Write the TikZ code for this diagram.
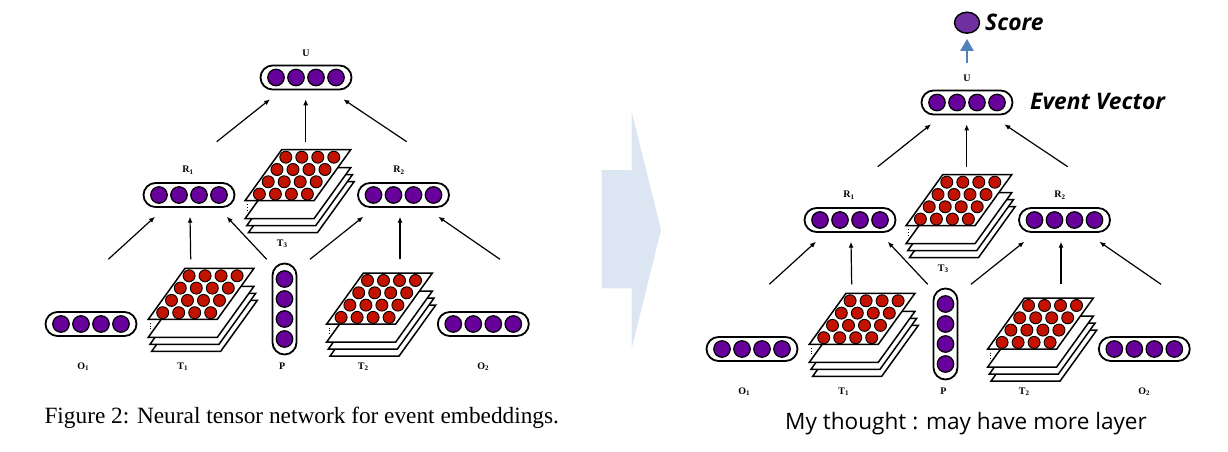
\documentclass[tikz,border=0pt]{standalone}
\usepackage{fontspec}
\setmainfont{Liberation Serif}
\newfontfamily\notefont{Open Sans}
\usetikzlibrary{calc,arrows.meta,shapes.geometric}

\definecolor{unitPurple}{RGB}{104,0,156}
\definecolor{cellRed}{RGB}{196,18,0}
\definecolor{flowBlue}{RGB}{220,230,242}
\definecolor{scoreBlue}{RGB}{79,129,189}
\definecolor{scorePurple}{RGB}{112,48,160}

%% tensor: stacked plates with 4x4 cells, #1 = lower left corner of top plate
\newcommand{\tensorStack}[1]{%
  \foreach \dx/\dy in {3.4/32, 1.7/25, 0/18, 0/0}
  {
    \draw[plateDecorate] ($(#1)+(\dx,\dy)$) -- ++(69,0) -- ++(36.7,-51)
      -- ++(-69,0) -- cycle;
  }
  \foreach \row in {0,...,3}
    \foreach \col in {0,...,3}
    {
      \node[cellDecorate] (#1-\row-\col) at
        ($(#1)+(14.4+16*\col+8.8*\row,-6.6-12.3*\row)$) {};
    }
  \draw[dotted,line width=0.8pt] ($(#1)+(2.4,3.5)$) -- ++(0,6.5);
}

%% whole network, used twice
\newcommand{\eventNetwork}{%
  %% vectors
  \foreach \nodename/\x/\y in {U/306/77.5, R1/189/195, R2/403.5/195,
    O1/91/324, O2/483.3/324}
  {
    \node[capsuleDecorate] (\nodename) at (\x,\y) {};
    \foreach \ui/\uoff in {1/-30, 2/-10, 3/10, 4/30}
      \node[unitDecorate] (\nodename-\ui) at ($(\nodename)+(\uoff,0)$) {};
  }
  \node[capsuleDecorate,minimum width=24pt,minimum height=91pt] (P) at (284.5,309) {};
  \foreach \ui/\uoff in {1/-30, 2/-10, 3/10, 4/30}
    \node[unitDecorate] (P-\ui) at ($(P)+(0,\uoff)$) {};
  %% tensors
  \coordinate (T1) at (148.3,319.3);
  \coordinate (T2) at (326.7,324);
  \coordinate (T3) at (245,200.7);
  \tensorStack{T3}
  \tensorStack{T1}
  \tensorStack{T2}
  %% labels
  \foreach \nodename/\x/\y/\txt in {lblU/306/53/{U},
    lblR1/188/170/{R\textsubscript{1}}, lblR2/399/170/{R\textsubscript{2}},
    lblT3/282.3/244/{T\textsubscript{3}}, lblO1/83.3/366.7/{O\textsubscript{1}},
    lblT1/182.7/366.7/{T\textsubscript{1}}, lblP/282.3/366.5/{P},
    lblT2/363.3/366.7/{T\textsubscript{2}}, lblO2/483.3/366.7/{O\textsubscript{2}}}
    \node[labelDecorate] (\nodename) at (\x,\y) {\txt};
  %% arrows
  \foreach \tail/\tx/\ty/\head/\hx/\hy in {
    R1-up/216.7/141.7/U-in1/270/99.3, T3-up/305.7/141.7/U-in2/305.7/99.3,
    R2-up/406.7/141.7/U-in3/343.3/99.3, O1-up/108.3/259.3/R1-in1/155/216.7,
    T1-up/190.7/259.3/R1-in2/190/216.7, P-upl/266.7/259.3/R1-in3/226.7/216.7,
    P-upr/310/259.3/R2-in1/363.3/216.7, T2-up/400/259.3/R2-in2/400/216.7,
    O2-up/500/259.3/R2-in3/438.3/216.7}
  {
    \coordinate (\tail) at (\tx,\ty);
    \coordinate (\head) at (\hx,\hy);
    \draw[arrowDecorate] (\tail) -- (\head);
  }
}

\begin{document}
\begin{tikzpicture}
[x=1pt,y=-1pt,
  capsuleDecorate/.style={draw,line width=1.8pt,rounded corners=12pt,fill=white,
    minimum width=91pt,minimum height=24pt,inner sep=0pt},
  unitDecorate/.style={circle,draw,line width=1.2pt,fill=unitPurple,
    minimum size=16.5pt,inner sep=0pt},
  cellDecorate/.style={circle,draw,line width=0.9pt,fill=cellRed,
    minimum size=12pt,inner sep=0pt},
  plateDecorate/.style={draw,line width=1.5pt,fill=white},
  arrowDecorate/.style={-{Latex[length=6pt,width=5pt]},line width=1.2pt},
  labelDecorate/.style={font=\bfseries\fontsize{10}{11}\selectfont,inner sep=0pt},
  noteDecorate/.style={font=\notefont\bfseries\itshape\fontsize{22.8}{26}\selectfont,
    inner sep=0pt},
  scoreDecorate/.style={ellipse,draw,line width=1.4pt,fill=scorePurple,
    minimum width=25pt,minimum height=21pt,inner sep=0pt},
  scoreArrow/.style={-{Triangle[length=12pt,width=13pt]},line width=2.2pt,
    scoreBlue,shorten >=5pt}]
\useasboundingbox (0,0) rectangle (1228,452);
%% original network
\begin{scope}[name prefix=a-]
  \eventNetwork
\end{scope}
\node[anchor=west,font=\fontsize{23.3}{27}\selectfont] (caption) at (41,418)
  {Figure 2: Neural tensor network for event embeddings.};
%% flow arrow
\fill[flowBlue] (601.7,170) -- (631.7,170) -- (631.7,111.7) -- (661,230)
  -- (631.7,348.3) -- (631.7,288.3) -- (601.7,288.3) -- cycle;
%% extended network
\begin{scope}[name prefix=b-,shift={(661,25)}]
  \eventNetwork
\end{scope}
\node[scoreDecorate] (score) at (967,22.7) {};
\node[noteDecorate,anchor=west] (scoreText) at (985,22.7) {Score};
\coordinate (scoreIn) at (967,62.7);
\draw[scoreArrow] (scoreIn) -- (score);
\node[noteDecorate,anchor=west] (eventText) at (1030,101.7) {Event Vector};
\node[font=\notefont\fontsize{22.6}{26}\selectfont] (thought) at (966,424)
  {My thought : may have more layer};
\end{tikzpicture}
\end{document}
